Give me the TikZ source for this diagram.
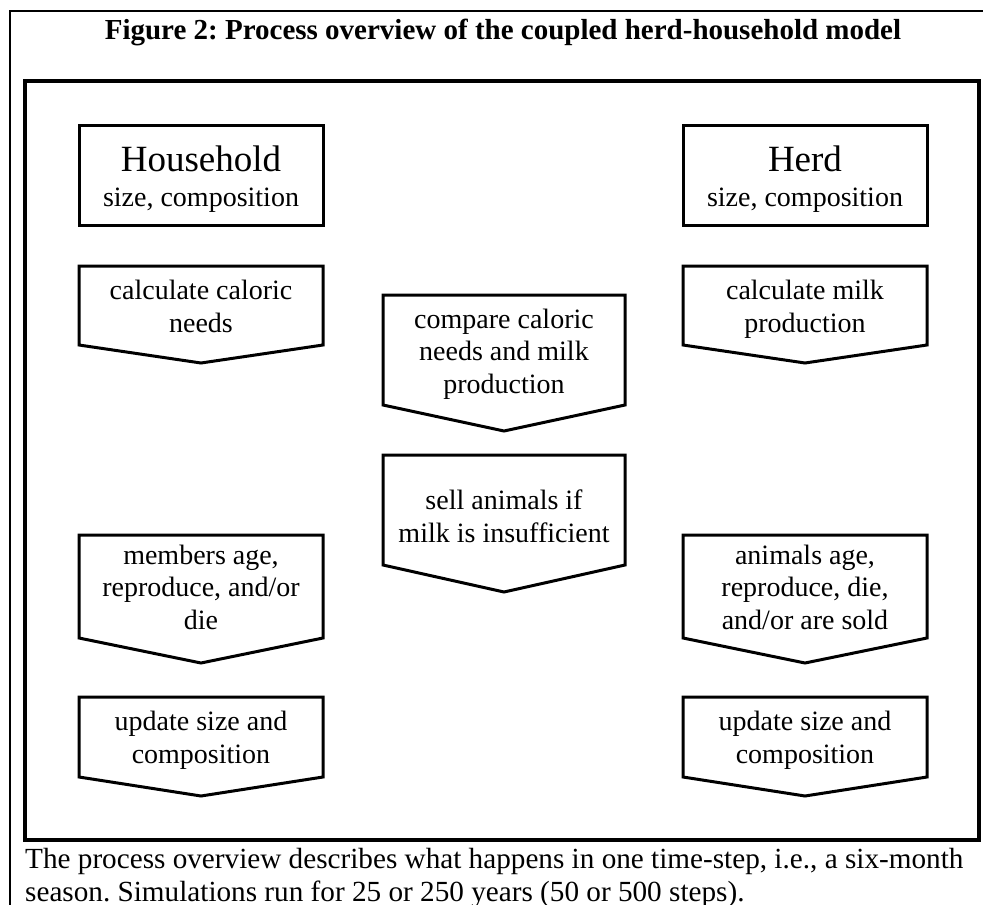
\documentclass[tikz,border=0pt]{standalone}
\usepackage{fontspec}
\setmainfont{Liberation Serif}
\begin{document}
\begin{tikzpicture}[x=1pt,y=-1pt,
  boxline/.style={line width=3pt,line join=miter},
  shapebox/.style={draw=none,inner sep=0pt,outer sep=0pt,minimum width=244pt},
  headbox/.style={shapebox,draw,line width=3pt},
  proctext/.style={inner sep=0pt,align=center,anchor=base,font=\fontsize{28}{32.3}\selectfont},
  innerframe/.style={line width=4pt},
  outerframe/.style={line width=1.5pt}]
\frenchspacing
\useasboundingbox (0,0) rectangle (983,905);
\begin{scope}
\clip (0,0) rectangle (983,905);
\draw[outerframe] (10,1000) -- (10,11) -- (1100,11);
\end{scope}
\draw[innerframe] (25,81) rectangle (979,840);
\node[font=\bfseries\fontsize{29}{33}\selectfont,anchor=base,inner sep=0pt] (title) at (503,39) {Figure 2: Process overview of the coupled herd-household model};
% header boxes
\node[headbox,minimum height=100pt] (hh) at (201,175) {};
\node[headbox,minimum height=100pt] (herd) at (805,175) {};
\node[proctext,font=\fontsize{37}{40}\selectfont] (hh-name) at (201,171) {Household};
\node[proctext] (hh-attr) at (201,206) {size, composition};
\node[proctext,font=\fontsize{37}{40}\selectfont] (herd-name) at (805,171) {Herd};
\node[proctext] (herd-attr) at (805,206) {size, composition};
% process pentagons
\newcommand\pentagon[2]{\draw[boxline] (#1.north west) -- (#1.north east) -- (#1.south east) -- ([yshift=-#2pt]#1.south) -- (#1.south west) -- cycle;}
\node[shapebox,minimum height=79pt] (calc) at (201,305.5) {};
\node[shapebox,minimum height=79pt] (milk) at (805,305.5) {};
\node[shapebox,minimum height=110pt,minimum width=242pt] (comp) at (504,350) {};
\node[shapebox,minimum height=110pt,minimum width=242pt] (sell) at (504,510) {};
\node[shapebox,minimum height=103pt] (memb) at (201,586.5) {};
\node[shapebox,minimum height=103pt] (anim) at (805,586.5) {};
\node[shapebox,minimum height=80pt] (updh) at (201,737) {};
\node[shapebox,minimum height=80pt] (updr) at (805,737) {};
\pentagon{calc}{18}
\pentagon{milk}{18}
\pentagon{comp}{26}
\pentagon{sell}{27}
\pentagon{memb}{25}
\pentagon{anim}{25}
\pentagon{updh}{19}
\pentagon{updr}{19}
\node[proctext] (calc-t) at (201,332) {calculate caloric\\needs};
\node[proctext] (milk-t) at (805,332) {calculate milk\\production};
\node[proctext] (comp-t) at (504,393) {compare caloric\\needs and milk\\production};
\node[proctext] (sell-t) at (504,542) {sell animals if\\milk is insufficient};
\node[proctext] (memb-t) at (201,629) {members age,\\reproduce, and/or\\die};
\node[proctext] (anim-t) at (805,629) {animals age,\\reproduce, die,\\and/or are sold};
\node[proctext] (updh-t) at (201,763) {update size and\\composition};
\node[proctext] (updr-t) at (805,763) {update size and\\composition};
\node[anchor=base west,align=left,font=\fontsize{29.2}{33}\selectfont,inner sep=0pt] (cap) at (25,901) {The process overview describes what happens in one time-step, i.e., a six-month\\season. Simulations run for 25 or 250 years (50 or 500 steps).};
\end{tikzpicture}
\end{document}
